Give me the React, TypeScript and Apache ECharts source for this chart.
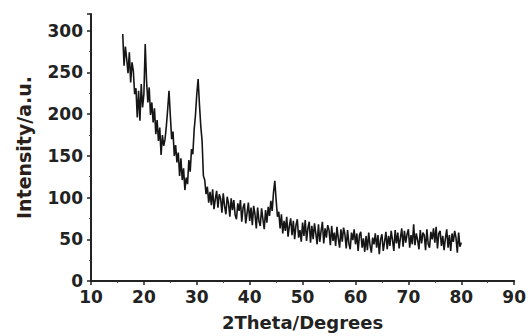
import React, { useEffect, useRef } from "react";
import * as echarts from "echarts";

// 2θ sampling: start 16°, step 0.25°, one row per degree
const thetaStart = 16;
const thetaStep = 0.25;

const intensity: number[] = [
  296, 258, 281, 266, // 16
  249, 274, 238, 262, // 17
  252, 224, 231, 196, // 18
  228, 192, 236, 208, // 19
  224, 284, 240, 214, // 20
  232, 199, 214, 190, // 21
  207, 176, 193, 168, // 22
  184, 151, 175, 162, // 23
  170, 186, 206, 228, // 24
  198, 170, 179, 150, // 25
  163, 142, 154, 126, // 26
  147, 121, 135, 109, // 27
  124, 116, 145, 131, // 28
  158, 152, 181, 199, // 29
  224, 242, 212, 186, // 30
  168, 126, 121, 104, // 31
  113, 94, 107, 91, // 32
  110, 86, 98, 108, // 33
  88, 104, 99, 82, // 34
  105, 90, 80, 101, // 35
  93, 77, 99, 85, // 36
  97, 79, 74, 93, // 37
  84, 97, 71, 88, // 38
  93, 69, 81, 94, // 39
  72, 88, 67, 90, // 40
  80, 63, 88, 72, // 41
  66, 87, 74, 62, // 42
  85, 70, 89, 78, // 43
  96, 84, 106, 120, // 44
  97, 77, 83, 63, // 45
  80, 57, 72, 60, // 46
  77, 53, 66, 75, // 47
  55, 72, 50, 67, // 48
  74, 52, 61, 47, // 49
  70, 54, 73, 48, // 50
  63, 71, 46, 66, // 51
  50, 69, 57, 44, // 52
  68, 47, 60, 71, // 53
  45, 63, 52, 67, // 54
  61, 43, 66, 48, // 55
  58, 42, 65, 51, // 56
  40, 62, 47, 64, // 57
  56, 39, 61, 45, // 58
  38, 58, 49, 62, // 59
  44, 57, 36, 55, // 60
  59, 40, 51, 35, // 61
  54, 37, 58, 43, // 62
  34, 52, 44, 57, // 63
  40, 55, 32, 50, // 64
  56, 36, 47, 59, // 65
  38, 54, 42, 60, // 66
  49, 36, 61, 45, // 67
  58, 39, 52, 63, // 68
  41, 60, 46, 56, // 69
  62, 40, 55, 44, // 70
  68, 43, 57, 49, // 71
  38, 61, 45, 58, // 72
  55, 37, 62, 44, // 73
  40, 59, 50, 63, // 74
  46, 65, 39, 57, // 75
  60, 42, 54, 37, // 76
  51, 62, 40, 55, // 77
  36, 57, 47, 60, // 78
  52, 34, 58, 41, // 79
  46, // 80
];

const xTitle = "2Theta/Degrees";
const yTitle = "Intensity/a.u.";

export default function App() {
  const ref = useRef<HTMLDivElement>(null);
  useEffect(() => {
    if (!ref.current) return;
    const chart = echarts.init(ref.current, undefined, { renderer: "svg" });
    const data = intensity.map((v, i) => [thetaStart + i * thetaStep, v]);
    const font = "DejaVu Sans";
    chart.setOption({
      animation: false,
      backgroundColor: "#ffffff",
      grid: { left: 91, right: 12, top: 14, bottom: 54 },
      xAxis: {
        type: "value",
        min: 10,
        max: 90,
        interval: 10,
        name: xTitle,
        nameLocation: "middle",
        nameGap: 32,
        nameTextStyle: { fontFamily: font, fontWeight: "bold", fontSize: 18, color: "#222" },
        axisLine: { show: true, lineStyle: { color: "#222", width: 2 } },
        axisTick: { show: true, length: 4, lineStyle: { color: "#222", width: 1.5 } },
        minorTick: { show: true, splitNumber: 2, length: 2, lineStyle: { color: "#444" } },
        splitLine: { show: false },
        axisLabel: { fontFamily: font, fontWeight: "bold", fontSize: 17, color: "#222", margin: 7 },
      },
      yAxis: {
        type: "value",
        min: 0,
        max: 320,
        interval: 50,
        name: yTitle,
        nameLocation: "middle",
        nameGap: 58,
        nameTextStyle: { fontFamily: font, fontWeight: "bold", fontSize: 19, color: "#2a1f1a" },
        axisLine: { show: true, lineStyle: { color: "#222", width: 2 } },
        axisTick: { show: true, length: 4, lineStyle: { color: "#222", width: 1.5 } },
        minorTick: { show: true, splitNumber: 2, length: 2, lineStyle: { color: "#444" } },
        splitLine: { show: false },
        axisLabel: {
          fontFamily: font,
          fontWeight: "bold",
          fontSize: 17,
          color: "#222",
          margin: 8,
          showMaxLabel: false,
        },
      },
      series: [
        {
          type: "line",
          data,
          showSymbol: false,
          symbol: "none",
          lineStyle: { color: "#151515", width: 1.6 },
        },
      ],
    });
    return () => chart.dispose();
  }, []);
  return (
    <div
      ref={ref}
      style={{ position: "fixed", left: 0, top: 0, width: 529, height: 336 }}
    />
  );
}
